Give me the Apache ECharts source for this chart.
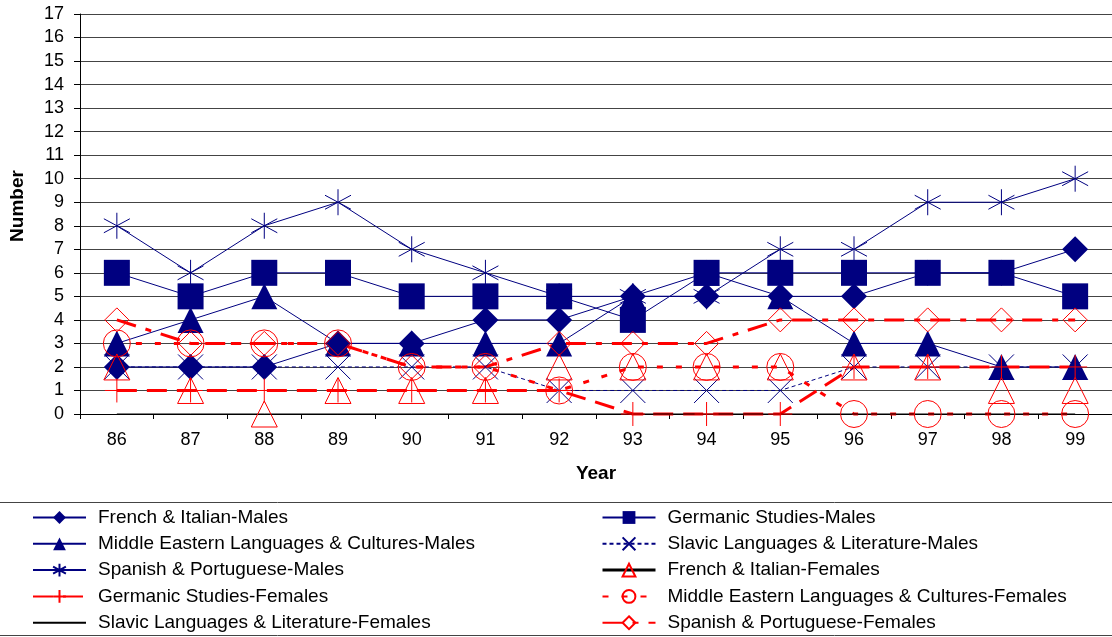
<!DOCTYPE html>
<html>
<head>
<meta charset="utf-8">
<script src="https://cdn.jsdelivr.net/npm/echarts@6/dist/echarts.min.js"></script>
<style>
html,body{margin:0;padding:0;background:#fff;}
#chart{width:1112px;height:637px;}
</style>
</head>
<body>
<div id="chart"></div>
<script>
var years = ['86','87','88','89','90','91','92','93','94','95','96','97','98','99'];
var frenchMales     = [2,2,2,3,3,4,4,5,5,5,5,6,6,7];
var germanicMales   = [6,5,6,6,5,5,5,4,6,6,6,6,6,5];
var meMales         = [3,4,5,3,3,3,3,5,6,5,3,3,2,2];
var slavicMales     = [2,2,2,2,2,2,1,1,1,1,2,2,2,2];
var spanishMales    = [8,6,8,9,7,6,5,5,5,7,7,9,9,10];
var frenchFemales   = [2,1,0,1,1,1,2,2,2,2,2,2,1,1];
var germanicFemales = [1,1,1,1,1,1,1,0,0,0,2,2,2,2];
var meFemales       = [3,3,3,3,2,2,1,2,2,2,0,0,0,0];
var slavicFemales   = [0,0,0,0,0,0,0,0,0,0,0,0,0,0];
var spanishFemales  = [4,3,3,3,2,2,3,3,3,4,4,4,4,4];

var names = [
  'French & Italian-Males',
  'Germanic Studies-Males',
  'Middle Eastern Languages & Cultures-Males',
  'Slavic Languages & Literature-Males',
  'Spanish & Portuguese-Males',
  'French & Italian-Females',
  'Germanic Studies-Females',
  'Middle Eastern Languages & Cultures-Females',
  'Slavic Languages & Literature-Females',
  'Spanish & Portuguese-Females'
];

var NAVY = '#000080', RED = '#ff0000', CLEAR = 'rgba(0,0,0,0)';
var ASTERISK = 'path://M13,0L13,26M0,6L26,20M0,20L26,6';
var XMARK = 'path://M0,0L10,10M0,10L10,0';
var PLUS = 'path://M5,0L5,10M0,5L10,5';
var FONT = 'Liberation Sans, Arial, sans-serif';

function s(name, data, symbol, size, itemStyle, lineStyle) {
  return {
    name: name, type: 'line', data: data, symbol: symbol, symbolSize: size,
    itemStyle: itemStyle, lineStyle: lineStyle, clip: false, animation: false,
    emphasis: {disabled: true}
  };
}

var series = [
  s(names[0], frenchMales, 'diamond', 26, {color: NAVY}, {color: NAVY, width: 1}),
  s(names[1], germanicMales, 'rect', 26, {color: NAVY}, {color: NAVY, width: 1}),
  s(names[2], meMales, 'triangle', 26, {color: NAVY}, {color: NAVY, width: 1}),
  s(names[3], slavicMales, XMARK, 25, {color: CLEAR, borderColor: NAVY, borderWidth: 1}, {color: NAVY, width: 1, type: [4, 3]}),
  s(names[4], spanishMales, ASTERISK, 26, {color: CLEAR, borderColor: NAVY, borderWidth: 1}, {color: NAVY, width: 1}),
  s(names[5], frenchFemales, 'triangle', 26, {color: CLEAR, borderColor: RED, borderWidth: 1}, {color: '#000', width: 0, opacity: 0}),
  s(names[6], germanicFemales, PLUS, 24, {color: CLEAR, borderColor: RED, borderWidth: 1}, {color: RED, width: 3, type: [20, 10]}),
  s(names[7], meFemales, 'circle', 27, {color: CLEAR, borderColor: RED, borderWidth: 1}, {color: RED, width: 3, type: [6, 13]}),
  s(names[8], slavicFemales, 'none', 1, {color: '#000'}, {color: '#000', width: 1}),
  s(names[9], spanishFemales, 'diamond', 24, {color: CLEAR, borderColor: RED, borderWidth: 1}, {color: RED, width: 3, type: [20, 10, 6, 10]})
];

function legendItem(i) {
  var d = {name: names[i]};
  if (i === 5) d.lineStyle = {color: '#000', width: 3, opacity: 1, type: 'solid'};
  if (i === 8) d.itemStyle = {opacity: 0};
  return d;
}

var legendCommon = {
  orient: 'vertical', itemWidth: 53, itemHeight: 16, itemGap: 7.3,
  padding: 0, height: 160, width: 520,
  selectedMode: false,
  textStyle: {fontFamily: FONT, fontSize: 19, color: '#000', lineHeight: 18, padding: [0, 0, 0, 7]}
};

var option = {
  backgroundColor: '#fff',
  animation: false,
  grid: {left: 80, right: 0, top: 14, bottom: 223, containLabel: false},
  xAxis: {
    type: 'category', data: years, boundaryGap: true,
    name: 'Year', nameLocation: 'middle', nameGap: 50,
    nameTextStyle: {fontFamily: FONT, fontSize: 19, fontWeight: 'bold', color: '#000'},
    axisLine: {lineStyle: {color: '#000', width: 1}},
    axisTick: {show: true, length: 5, lineStyle: {color: '#000'}},
    axisLabel: {fontFamily: FONT, fontSize: 18, color: '#000', margin: 17},
    splitLine: {show: false}
  },
  yAxis: {
    type: 'value', min: 0, max: 17, interval: 1,
    name: 'Number', nameLocation: 'middle', nameGap: 53, nameRotate: 90,
    nameTextStyle: {fontFamily: FONT, fontSize: 19, fontWeight: 'bold', color: '#000', padding: [0, 0, 0, 16]},
    axisLine: {show: true, lineStyle: {color: '#000', width: 1}},
    axisTick: {show: true, length: 6, lineStyle: {color: '#000'}},
    axisLabel: {fontFamily: FONT, fontSize: 18, color: '#000', margin: 16},
    splitLine: {show: true, lineStyle: {color: '#444', width: 1}}
  },
  legend: [
    Object.assign({}, legendCommon, {left: 32, top: 508, data: [0, 2, 4, 6, 8].map(legendItem)}),
    Object.assign({}, legendCommon, {left: 601, top: 508, data: [1, 3, 5, 7, 9].map(legendItem)})
  ],
  graphic: [{
    type: 'rect', silent: true, z: -1,
    shape: {x: -2, y: 502.5, width: 1116, height: 133},
    style: {fill: 'none', stroke: '#444', lineWidth: 1}
  }],
  series: series
};

var chart = echarts.init(document.getElementById('chart'), null, {renderer: 'canvas'});
chart.setOption(option);
</script>
</body>
</html>
